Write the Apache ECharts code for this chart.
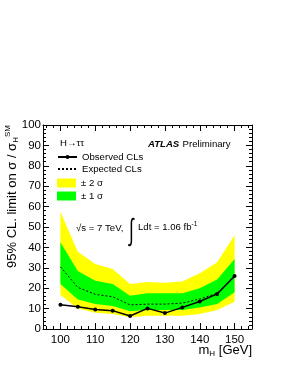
<!DOCTYPE html>
<html>
<head>
<meta charset="utf-8">
<script src="https://cdn.jsdelivr.net/npm/echarts@6/dist/echarts.min.js"></script>
<style>
html,body{margin:0;padding:0;background:#fff;}
#c{width:287px;height:371px;}
</style>
</head>
<body>
<div id="c"></div>
<script>
var masses = [100, 105, 110, 115, 120, 125, 130, 135, 140, 145, 150];
var observed = [11.9, 10.9, 9.6, 9.0, 6.4, 10.1, 7.8, 10.6, 13.5, 17.2, 26.0];
var expected = [30.5, 20.4, 17.0, 15.8, 11.8, 12.2, 12.2, 12.7, 14.7, 17.5, 25.6];
var sigma1Up = [42.5, 28.4, 23.7, 22.0, 16.3, 17.5, 17.5, 17.5, 20.0, 24.3, 34.3];
var sigma1Down = [22.0, 14.5, 12.2, 11.3, 8.7, 9.3, 9.3, 9.3, 10.5, 12.2, 18.0];
var sigma2Up = [57.5, 37.9, 31.9, 29.4, 22.0, 23.0, 22.7, 23.3, 27.3, 32.7, 46.0];
var sigma2Down = [16.7, 10.0, 8.0, 7.4, 5.7, 6.5, 6.5, 6.5, 7.4, 9.3, 13.4];
var xTicks = [100, 110, 120, 130, 140, 150];
var yTicks = [0, 10, 20, 30, 40, 50, 60, 70, 80, 90, 100];

function pairs(ys) { return masses.map(function (m, i) { return [m, ys[i]]; }); }

var FONT = '"Liberation Sans", Arial, Helvetica, sans-serif';
var chart = echarts.init(document.getElementById('c'), null, {renderer: 'canvas'});

function xAx(pos, labels) {
  return {
    type: 'value', position: pos, min: 95, max: 155, splitNumber: 6, z: 5,
    axisLine: {show: true, onZero: false, lineStyle: {color: '#000', width: 1}},
    axisTick: {show: true, inside: true, length: 6, lineStyle: {color: '#000'}},
    minorTick: {show: false},
    splitLine: {show: false},
    axisLabel: {show: labels, color: '#000', fontFamily: FONT, fontSize: 11.5, margin: 5,
      formatter: function (v) { return xTicks.indexOf(v) >= 0 ? String(v) : ''; }},
    name: pos === 'bottom' ? '{m|m}{s|H}{m| [GeV]}' : '',
    nameLocation: 'end', nameGap: 0, nameMoveOverlap: false,
    nameTextStyle: {rich: {m: {fontFamily: FONT, fontSize: 13, color: '#000'},
                           s: {fontFamily: FONT, fontSize: 8, color: '#000', padding: [0,0,-6,0]}},
                    align: 'right', verticalAlign: 'top', padding: [15, 0, 0, 0]}
  };
}
function xMinor(pos) {
  return {
    type: 'value', position: pos, offset: 0, min: 95, max: 155, splitNumber: 30, z: 5,
    axisLine: {show: false, onZero: false},
    axisTick: {show: true, inside: true, length: 3, lineStyle: {color: '#000'}},
    axisLabel: {show: false}, splitLine: {show: false}
  };
}
function yAx(pos, labels) {
  return {
    type: 'value', position: pos, min: 0, max: 100, interval: 10, z: 5,
    axisLine: {show: true, onZero: false, lineStyle: {color: '#000', width: 1}},
    axisTick: {show: true, inside: true, length: 6, lineStyle: {color: '#000'}},
    minorTick: {show: true, splitNumber: 5, length: 3, lineStyle: {color: '#000'}},
    splitLine: {show: false},
    axisLabel: {show: labels, color: '#000', fontFamily: FONT, fontSize: 11.5, margin: 2,
      formatter: function (v) { return yTicks.indexOf(v) >= 0 ? String(v) : ''; }}
  };
}
function band(name, up, dn, color) {
  return {
    type: 'custom', name: name, silent: true, z: 2, clip: true,
    itemStyle: {color: color},
    data: masses.map(function (m, i) { return [m, up[i], dn[i]]; }),
    encode: {x: 0, y: [1, 2]},
    renderItem: function (params, api) {
      if (params.dataIndexInside !== 0) return null;
      var n = params.dataInsideLength, pts = [], i;
      for (i = 0; i < n; i++) pts.push(api.coord([api.value(0, i), api.value(1, i)]));
      for (i = n - 1; i >= 0; i--) pts.push(api.coord([api.value(0, i), api.value(2, i)]));
      return {type: 'polygon', shape: {points: pts}, style: {fill: color, stroke: null}};
    }
  };
}

var option = {
  animation: false,
  backgroundColor: '#fff',
  grid: {left: 43, right: 35, top: 125, bottom: 42, containLabel: false, outerBoundsMode: 'none'},
  xAxis: [xAx('bottom', true), xAx('top', false), xMinor('bottom'), xMinor('top')],
  yAxis: [yAx('left', true), yAx('right', false)],
  legend: [{
    orient: 'vertical', left: 57, top: 152, padding: 0, itemWidth: 19, itemHeight: 5, itemGap: 2,
    textStyle: {fontFamily: FONT, fontSize: 9.6, color: '#000'},
    selectedMode: false,
    data: [
      {name: 'Observed CLs'},
      {name: 'Expected CLs', itemStyle: {opacity: 0}}
    ]
  }, {
    orient: 'vertical', left: 57, top: 178, padding: 0, itemWidth: 19, itemHeight: 9, itemGap: 3,
    textStyle: {fontFamily: FONT, fontSize: 9.6, color: '#000'},
    selectedMode: false,
    data: [
      {name: '± 2 σ', icon: 'rect', itemStyle: {color: '#ffff00', borderWidth: 0}},
      {name: '± 1 σ', icon: 'rect', itemStyle: {color: '#00ff00', borderWidth: 0}}
    ]
  }],
  series: [
    band('± 2 σ', sigma2Up, sigma2Down, '#ffff00'),
    band('± 1 σ', sigma1Up, sigma1Down, '#00ff00'),
    {type: 'line', name: 'Expected CLs', data: pairs(expected), symbol: 'none', color: '#000',
     lineStyle: {color: '#000', width: 1, type: [2, 2]}, z: 3},
    {type: 'line', name: 'Observed CLs', data: pairs(observed), symbol: 'circle', symbolSize: 4, color: '#000',
     itemStyle: {color: '#000'}, lineStyle: {color: '#000', width: 1.5}, z: 4}
  ],
  graphic: [
    {type: 'text', left: 60, top: 138, z: 10, style: {text: 'H→ττ', fontFamily: FONT, fontSize: 9.6, fill: '#000'}},
    {type: 'text', left: 148, top: 138, z: 10, style: {
      text: '{b|ATLAS} {n|Preliminary}',
      rich: {b: {fontFamily: FONT, fontSize: 9.6, fontWeight: 'bold', fontStyle: 'italic', fill: '#000'},
             n: {fontFamily: FONT, fontSize: 9.6, fill: '#000'}}}},
    {type: 'text', left: 76, top: 223, z: 1, style: {text: '√s = 7 TeV,', fontFamily: FONT, fontSize: 9.6, fill: '#000'}},
    {type: 'text', x: 129, y: 216, scaleY: 1.8, z: 1, style: {text: '∫', fontFamily: FONT, fontSize: 17, fill: '#000'}},
    {type: 'text', left: 138, top: 221, z: 1, style: {
      text: '{n|Ldt = 1.06 fb}{s|-1}',
      rich: {n: {fontFamily: FONT, fontSize: 9.6, fill: '#000'},
             s: {fontFamily: FONT, fontSize: 6.5, fill: '#000', padding: [0,0,6,0]}}}},
    {type: 'text', x: 4, y: 268, rotation: Math.PI / 2, z: 10, style: {
      text: '{n|95% CL. limit on σ / σ}{s|H}{p|SM}',
      rich: {n: {fontFamily: FONT, fontSize: 13, fill: '#000'},
             s: {fontFamily: FONT, fontSize: 8, fill: '#000', padding: [0,0,-8,0]},
             p: {fontFamily: FONT, fontSize: 8, fill: '#000', padding: [0,0,8,0]}}}}
  ]
};
chart.setOption(option);
</script>
</body>
</html>
